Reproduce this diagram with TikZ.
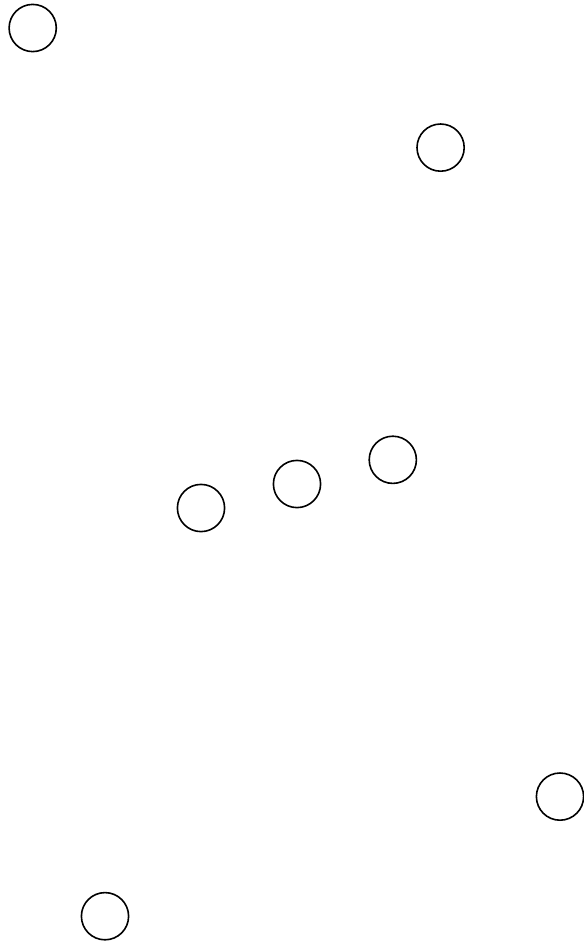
\documentclass[tikz,border=0pt]{standalone}
\usepackage{tikz}

\begin{document}
\begin{tikzpicture}[
  x=1pt, y=-1pt,
  vtx/.style={circle, draw, line width=1.6pt, minimum size=47.2pt, inner sep=0pt}
]
\useasboundingbox (0,0) rectangle (584,946);

\node[vtx] (topleft)  at (32.7,28)   {};
\node[vtx] (topright) at (440.6,147.6) {};

\node[vtx] (rowright) at (392.8,459.8) {};
\node[vtx] (rowmid)   at (297,484)   {};
\node[vtx] (rowleft)  at (201,508)   {};

\node[vtx] (lowright) at (560,796.6) {};
\node[vtx] (lowleft)  at (105,916.2) {};

\end{tikzpicture}
\end{document}
